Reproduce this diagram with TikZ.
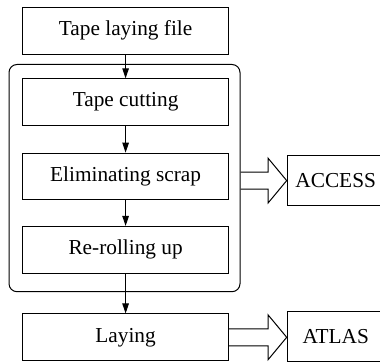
\documentclass[tikz,border=0pt]{standalone}
\usepackage{fontspec}
\setmainfont{Liberation Serif}
\usetikzlibrary{arrows.meta,calc}

\tikzset{
  stepbox/.style={draw, line width=1pt, rectangle, minimum width=205.8pt,
    minimum height=46.7pt, inner sep=0pt},
  sidebox/.style={draw, line width=1pt, rectangle, minimum width=97pt,
    minimum height=50pt, inner sep=0pt},
  groupbox/.style={draw, line width=1pt, rectangle, rounded corners=8pt,
    minimum width=231pt, minimum height=227.2pt, inner sep=0pt},
  flow/.style={line width=1pt, -{Triangle[length=10pt,width=6.5pt]}},
  hollow/.style={draw, line width=1pt, line join=miter},
}

% wide open-ended arrow from point #1 to the tip at #2 (same height as #1)
\newcommand{\widearrow}[2]{%
  \draw[hollow] let \p1=(#1), \p2=(#2) in
    (\x1,\y1+8.5pt) -- (\x2-18.7pt,\y1+8.5pt) -- (\x2-18.7pt,\y1+22.5pt)
    -- (\x2,\y1) -- (\x2-18.7pt,\y1-22.5pt) -- (\x2-18.7pt,\y1-8.5pt)
    -- (\x1,\y1-8.5pt);}

\begin{document}
\begin{tikzpicture}[x=1pt,y=-1pt,font=\fontsize{21.3}{25}\selectfont]
\useasboundingbox (0,0) rectangle (380,363);
\clip (0,0) rectangle (380,363);

% processing steps
\node[stepbox] (file) at (125.6,30.8) {Tape laying file};
\node[groupbox] (grp) at (124.5,178.1) {};
\node[stepbox] (cut) at (125.6,102.2) {Tape cutting};
\node[stepbox] (elim) at (125.6,176.5) {Eliminating scrap};
\node[stepbox] (roll) at (125.6,249.8) {Re-rolling up};
\node[stepbox] (lay) at (125.6,337.3) {Laying};

% software blocks
\node[sidebox, anchor=west] (acc) at (286.7,180.6) {ACCESS};
\node[sidebox, anchor=west] (atl) at (286.7,336.7) {ATLAS};

% flow between steps
\draw[flow] (file) -- (cut);
\draw[flow] (cut) -- (elim);
\draw[flow] (elim) -- (roll);
\draw[flow] (roll) -- (lay);

% links to the software
\coordinate (gout) at (grp.east |- acc.west);
\widearrow{gout}{acc.west}
\coordinate (lin) at (atl.west |- lay.east);
\widearrow{lay.east}{lin}
\end{tikzpicture}
\end{document}
